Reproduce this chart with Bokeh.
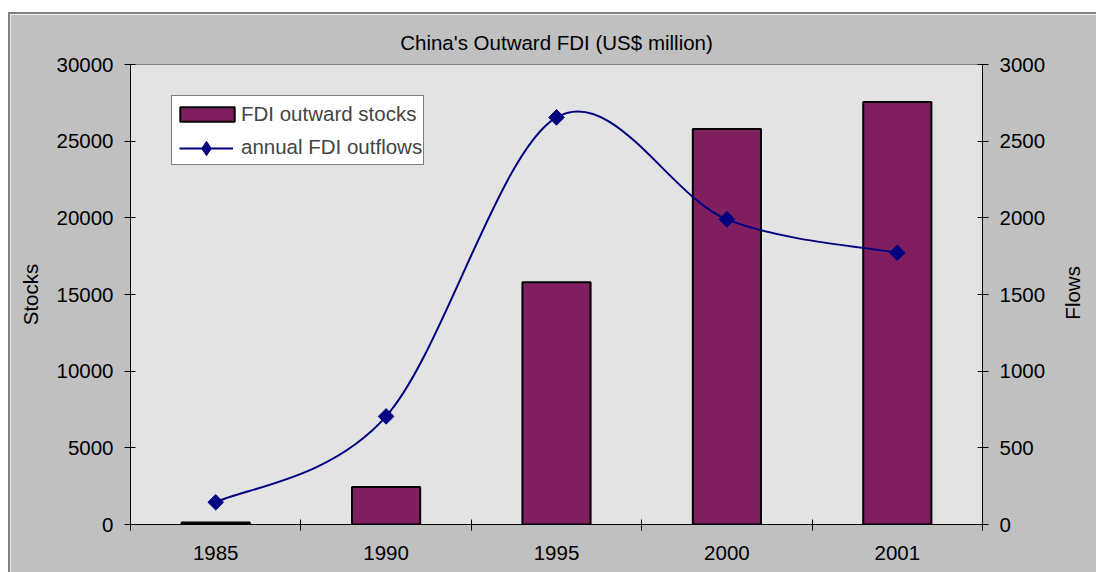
import math
from bokeh.plotting import figure
from bokeh.models import (Range1d, LinearAxis, FixedTicker, Legend, LegendItem)
from bokeh.core.properties import value
from bokeh.embed import file_html
from bokeh.resources import INLINE

# ---- data ----
years = ["1985", "1990", "1995", "2000", "2001"]
stocks = [131, 2450, 15800, 25800, 27550]
flows = [145, 705, 2655, 1990, 1772]
stock_ticks = [0, 5000, 10000, 15000, 20000, 25000, 30000]
flow_ticks = [0, 500, 1000, 1500, 2000, 2500, 3000]

FONT = "Liberation Sans"
FS = "20.5px"
xs = [i + 0.5 for i in range(len(years))]

p = figure(width=1088, height=560, output_backend="svg", toolbar_location=None,
           x_range=Range1d(0, len(years)), y_range=Range1d(0, 30000),
           min_border_left=120, min_border_right=115, min_border_top=50,
           min_border_bottom=50)
p.margin = (12, 0, 0, 8)
p.styles = {"border-top": "2px solid #808080", "border-left": "2px solid #808080"}
p.background_fill_color = "#E3E3E3"
p.border_fill_color = "#C0C0C0"
p.outline_line_color = "#808080"
p.xgrid.visible = False
p.ygrid.visible = False

p.title.text = "China's Outward FDI (US$ million)"
p.title.align = "center"
p.title.text_font = FONT
p.title.text_font_size = FS
p.title.text_font_style = "normal"
p.title.text_color = "black"
p.title.standoff = 21

p.extra_y_ranges = {"flows": Range1d(0, 3000)}

# x axis: labels at centres, tick marks between categories
xa = p.xaxis[0]
xa.ticker = FixedTicker(ticks=xs, minor_ticks=list(range(len(years) + 1)))
xa.major_label_overrides = {x: y for x, y in zip(xs, years)}
xa.major_tick_in = 0
xa.major_tick_out = 0
xa.minor_tick_in = 5
xa.minor_tick_out = 6
xa.minor_tick_line_color = "black"
xa.major_label_standoff = 15

ya = p.yaxis[0]
ya.ticker = FixedTicker(ticks=stock_ticks, minor_ticks=[])
ya.axis_label = "Stocks"
ya.axis_label_standoff = 11

ra = LinearAxis(y_range_name="flows", ticker=FixedTicker(ticks=flow_ticks, minor_ticks=[]))
p.add_layout(ra, "right")

for ax in [xa, ya, ra]:
    ax.axis_line_color = "black"
    ax.major_tick_line_color = "black"
    ax.major_label_text_font = FONT
    ax.major_label_text_font_size = FS
    ax.major_label_text_color = "black"
    ax.axis_label_text_font = FONT
    ax.axis_label_text_font_size = FS
    ax.axis_label_text_font_style = "normal"
    ax.axis_label_text_color = "black"
for ax in [ya, ra]:
    ax.major_tick_in = 5
    ax.major_tick_out = 6
    ax.major_label_standoff = 11

# right-hand title "Flows", reading bottom-to-top and centred on the frame:
# drawn as the single rotated label of a bare extra axis (text starts at its tick)
FLOWS_TITLE_START = 1336
ta = LinearAxis(y_range_name="flows",
                ticker=FixedTicker(ticks=[FLOWS_TITLE_START], minor_ticks=[]),
                major_label_overrides={FLOWS_TITLE_START: "Flows"},
                major_label_orientation=math.pi / 2, major_label_standoff=18,
                major_label_text_font=FONT, major_label_text_font_size=FS,
                major_label_text_color="black", axis_line_color=None,
                major_tick_line_color=None, minor_tick_line_color=None)
p.add_layout(ta, "right")

bars = p.vbar(x=xs, top=stocks, width=0.4, fill_color="#7F1F5F",
              line_color="black", line_width=2)

# smooth curve (Catmull-Rom style Bezier segments between data points)
n = len(xs)
def pt(i):
    i = max(0, min(n - 1, i))
    return xs[i], flows[i]
x0, y0, x1, y1, cx0, cy0, cx1, cy1 = [], [], [], [], [], [], [], []
for i in range(n - 1):
    pa, pb, pc, pd = pt(i - 1), pt(i), pt(i + 1), pt(i + 2)
    x0.append(pb[0]); y0.append(pb[1]); x1.append(pc[0]); y1.append(pc[1])
    cx0.append(pb[0] + (pc[0] - pa[0]) / 6); cy0.append(pb[1] + (pc[1] - pa[1]) / 6)
    cx1.append(pc[0] - (pd[0] - pb[0]) / 6); cy1.append(pc[1] - (pd[1] - pb[1]) / 6)
p.bezier(x0=x0, y0=y0, x1=x1, y1=y1, cx0=cx0, cy0=cy0, cx1=cx1, cy1=cy1,
         line_color="#000080", line_width=2, y_range_name="flows")
# legend-only renderers (hidden under the real first marker / zero-length line)
legmark = p.scatter(x=xs[:1], y=flows[:1], marker="diamond", size=3, fill_color="#000080",
                    line_color="#000080", y_range_name="flows")
legline = p.line(x=xs[:1], y=flows[:1], line_color="#000080", line_width=2,
                 y_range_name="flows")
ghost = p.line(x=xs[:1], y=flows[:1], line_alpha=0, y_range_name="flows")
pts = p.scatter(x=xs, y=flows, marker="square", angle=math.pi / 4, size=11,
                fill_color="#000080", line_color="#000080", y_range_name="flows")

legend = Legend(items=[LegendItem(label="FDI outward stocks", renderers=[bars]),
                       LegendItem(label="annual FDI outflows", renderers=[ghost])],
                location=(41, 458 - 31 - 68), border_line_color="black", border_line_width=1,
                background_fill_color="white", background_fill_alpha=1,
                label_text_font=FONT, label_text_font_size=FS,
                glyph_width=68, glyph_height=18, label_height=33,
                spacing=0, padding=1, margin=0, label_standoff=0)
p.add_layout(legend, "center")

legend2 = Legend(items=[LegendItem(label=value(" "), renderers=[legline, legmark])],
                 location=(49, 358), border_line_alpha=0, background_fill_alpha=0,
                 label_text_font=FONT, label_text_font_size=FS,
                 glyph_width=54, glyph_height=36, label_height=36,
                 spacing=0, padding=0, margin=0, label_standoff=0)
p.add_layout(legend2, "center")

open("out.html", "w").write(file_html(p, INLINE))
